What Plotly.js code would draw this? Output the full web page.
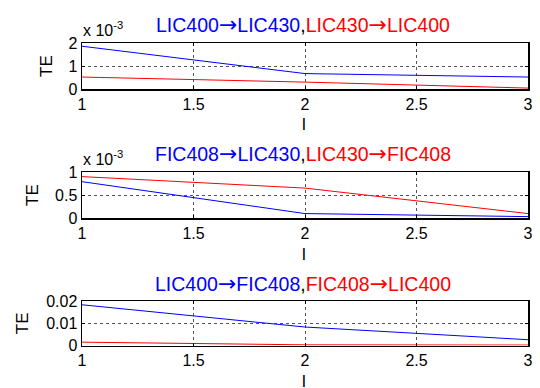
<!DOCTYPE html>
<html>
<head>
<meta charset="utf-8">
<script src="https://cdn.plot.ly/plotly-3.0.1.min.js"></script>
<style>html,body{margin:0;padding:0;background:#fff;}#chart{width:540px;height:388px;}</style>
</head>
<body>
<div id="chart"></div>
<script>
// Lag values
const lags = [1, 2, 3];

// Panel 1: LIC400 -> LIC430 (blue), LIC430 -> LIC400 (red)
const te1Blue = [0.00186, 0.00067, 0.00052];
const te1Red  = [0.00052, 0.00030, 0.00004];

// Panel 2: FIC408 -> LIC430 (blue), LIC430 -> FIC408 (red)
const te2Blue = [0.00079, 0.000096, 0.00003];
const te2Red  = [0.00090, 0.00065, 0.000096];

// Panel 3: LIC400 -> FIC408 (blue), FIC408 -> LIC400 (red)
const te3Blue = [0.0183, 0.0083, 0.0026];
const te3Red  = [0.0015, 0.0003, 0.0002];

const titles = [
  [['LIC400', 'LIC430'], ['LIC430', 'LIC400']],
  [['FIC408', 'LIC430'], ['LIC430', 'FIC408']],
  [['LIC400', 'FIC408'], ['FIC408', 'LIC400']]
];

const xTickVals = [1, 1.5, 2, 2.5, 3];
const xTickText = ['1', '1.5', '2', '2.5', '3'];
const yTickVals = [[0, 0.001, 0.002], [0, 0.0005, 0.001], [0, 0.01, 0.02]];
const yTickText = [['0', '1', '2'], ['0', '0.5', '1'], ['0', '0.01', '0.02']];
const yRanges = [[0, 0.002], [0, 0.001], [0, 0.02]];

const W = 540, H = 388;
const px = v => v / W;
const py = v => 1 - v / H;
// pixel boxes [top, bottom]
const boxes = [[43, 89], [172, 218], [301, 345.5]];
const xDom = [px(82), px(528)];

const BLUE = '#0000ff', RED = '#ff0000';
const font = 'Liberation Sans, Arial, sans-serif';

const series = [[te1Blue, te1Red], [te2Blue, te2Red], [te3Blue, te3Red]];
const data = [];
series.forEach((pair, i) => {
  const sfx = i === 0 ? '' : String(i + 1);
  data.push({x: lags, y: pair[0], type: 'scatter', mode: 'lines', line: {color: BLUE, width: 1}, xaxis: 'x' + sfx, yaxis: 'y' + sfx, showlegend: false, hoverinfo: 'skip'});
  data.push({x: lags, y: pair[1], type: 'scatter', mode: 'lines', line: {color: RED, width: 1}, xaxis: 'x' + sfx, yaxis: 'y' + sfx, showlegend: false, hoverinfo: 'skip'});
});

const layout = {
  width: W, height: H,
  margin: {l: 0, r: 0, t: 0, b: 0},
  paper_bgcolor: '#fff', plot_bgcolor: '#fff',
  font: {family: font, size: 16, color: '#000'},
  showlegend: false,
  annotations: []
};

const yLabelX = [46, 32, 22];
const ylabelSize = 17;
const arrow = '<span style="font-family:DejaVu Sans;font-size:22px">\u2192</span>';
const part = (p, c) => '<span style="color:' + c + '">' + p[0] + arrow + p[1] + '</span>';

boxes.forEach((b, i) => {
  const sfx = i === 0 ? '' : String(i + 1);
  const xa = {
    domain: xDom, range: [1, 3], anchor: 'y' + sfx,
    tickvals: xTickVals, ticktext: xTickText,
    ticks: 'inside', ticklen: 3, tickcolor: '#000', tickwidth: 1,
    showline: true, linecolor: '#000', linewidth: 1.5, mirror: 'ticks',
    showgrid: true, gridcolor: '#555', griddash: 'dot', gridwidth: 1,
    zeroline: false, tickfont: {size: 16, color: '#000', family: font},
    fixedrange: true
  };
  const ya = {
    domain: [py(b[1]), py(b[0])], range: yRanges[i], anchor: 'x' + sfx,
    tickvals: yTickVals[i], ticktext: yTickText[i],
    ticks: 'inside', ticklen: 3, tickcolor: '#000', tickwidth: 1,
    showline: true, linecolor: '#000', linewidth: 1.5, mirror: 'ticks',
    showgrid: true, gridcolor: '#555', griddash: 'dot', gridwidth: 1,
    zeroline: false, tickfont: {size: 16, color: '#000', family: font},
    fixedrange: true
  };
  layout['xaxis' + sfx] = xa;
  layout['yaxis' + sfx] = ya;

  // Title (two colored parts)
  layout.annotations.push({
    xref: 'paper', yref: 'paper', x: px(303), y: py(b[0] - 18),
    xanchor: 'center', yanchor: 'middle', showarrow: false,
    text: part(titles[i][0], BLUE) + ',' + part(titles[i][1], RED),
    font: {size: 19.5, family: font, color: '#000'}
  });
  // y label
  layout.annotations.push({
    xref: 'paper', yref: 'paper', x: px(yLabelX[i]), y: py((b[0] + b[1]) / 2),
    xanchor: 'center', yanchor: 'middle', showarrow: false, textangle: -90,
    text: 'TE', font: {size: ylabelSize, family: font, color: '#000'}
  });
  // x label
  layout.annotations.push({
    xref: 'paper', yref: 'paper', x: px(304), y: py(b[1] + 36),
    xanchor: 'center', yanchor: 'middle', showarrow: false,
    text: 'l', font: {size: 17, family: font, color: '#000'}
  });
  // exponent
  if (i < 2) {
    layout.annotations.push({
      xref: 'paper', yref: 'paper', x: px(81), y: py(b[0] - 2),
      xanchor: 'left', yanchor: 'bottom', showarrow: false,
      text: 'x 10<sup>-3</sup>', font: {size: 16, family: font, color: '#000'}
    });
  }
});

Plotly.newPlot('chart', data, layout, {staticPlot: true, displayModeBar: false});
</script>
</body>
</html>
